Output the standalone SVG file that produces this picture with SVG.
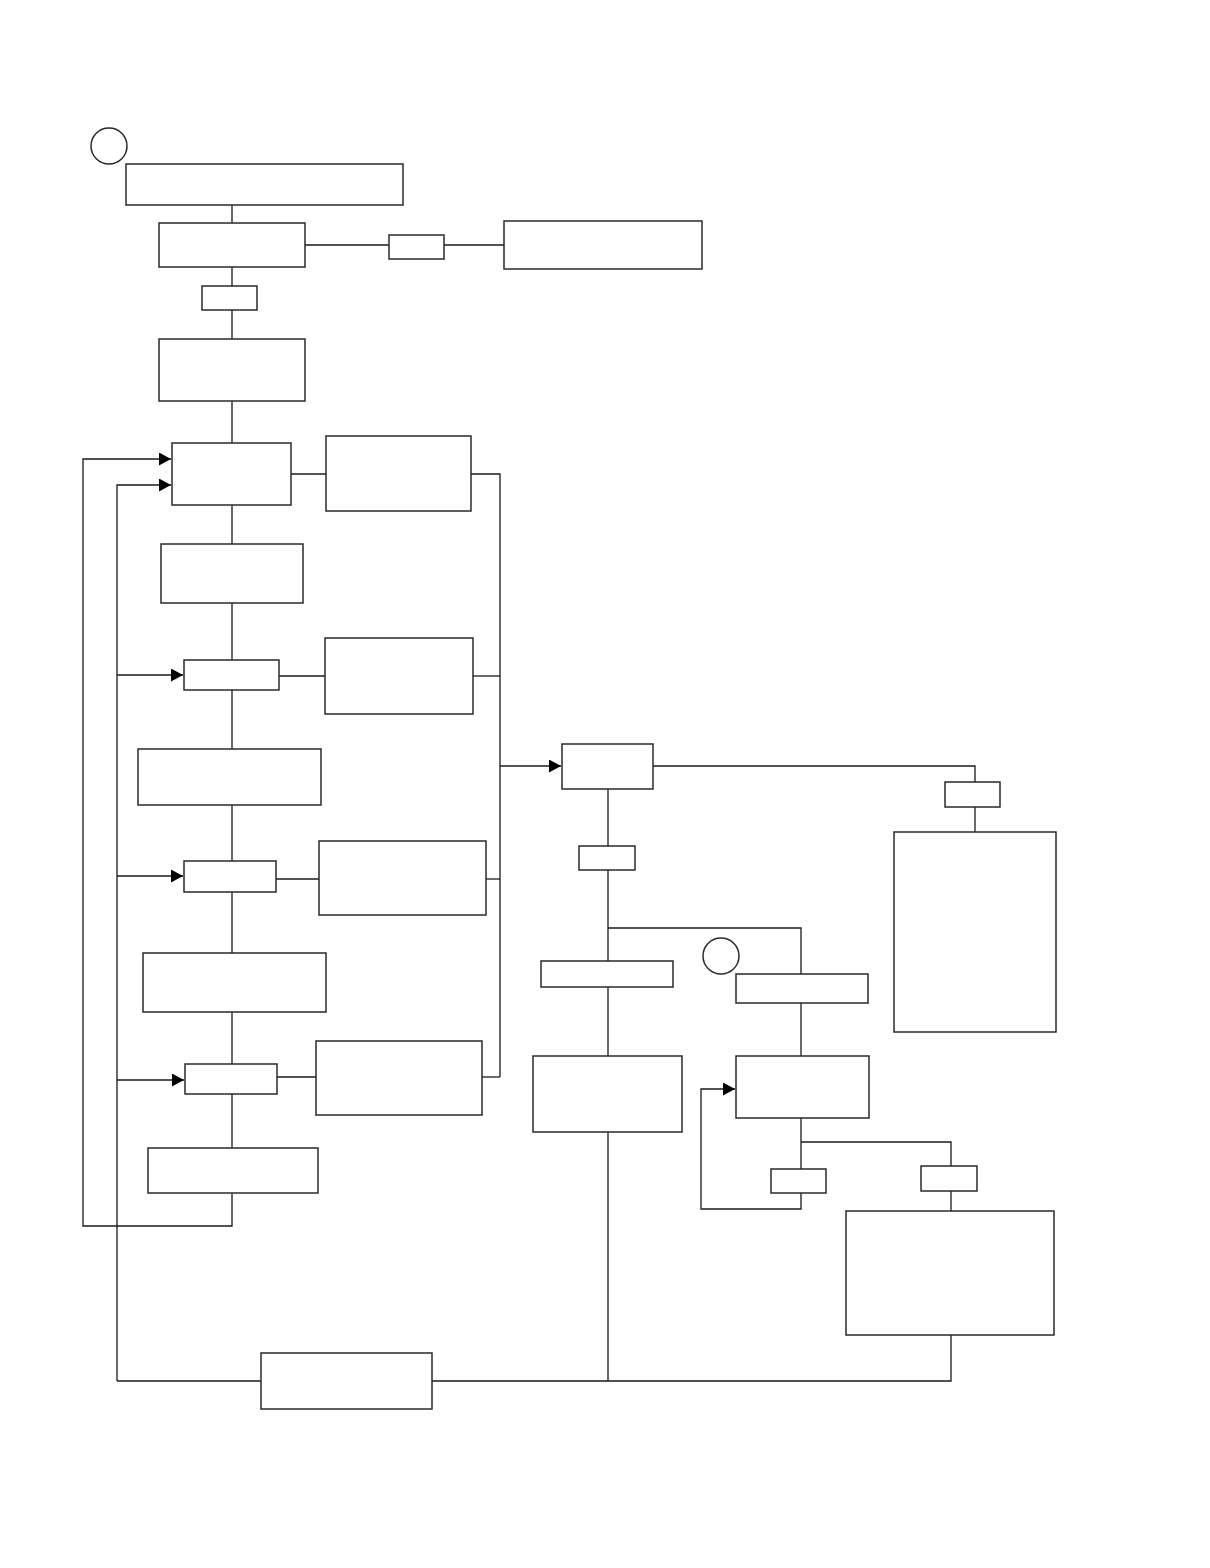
<svg xmlns="http://www.w3.org/2000/svg" width="1210" height="1568" viewBox="0 0 1210 1568">
<style>
.n{fill:#fff;stroke:#2a2a2a;stroke-width:1.5}
.c{fill:none;stroke:#1a1a1a;stroke-width:1.3}
</style>
<defs>
<marker id="ah" markerUnits="userSpaceOnUse" markerWidth="14" markerHeight="13" refX="12" refY="6.5" orient="auto">
<path d="M0,0 L12,6.5 L0,13 z" fill="#000"/>
</marker>
</defs>
<rect width="1210" height="1568" fill="#fff"/>
<g id="connectors" class="c">
<path d="M232,205 V223"/>
<path d="M305,245 H389"/>
<path d="M444,245 H504"/>
<path d="M232,267 V286"/>
<path d="M232,310 V339"/>
<path d="M232,401 V443"/>
<path d="M291,474 H326"/>
<path d="M471,474 H500 V1077"/>
<path d="M232,505 V544"/>
<path d="M232,603 V660"/>
<path d="M279,676 H325"/>
<path d="M473,676 H500"/>
<path d="M232,690 V749"/>
<path d="M232,805 V861"/>
<path d="M276,879 H319"/>
<path d="M486,879 H500"/>
<path d="M232,892 V953"/>
<path d="M232,1012 V1064"/>
<path d="M277,1077 H316"/>
<path d="M482,1077 H500"/>
<path d="M232,1094 V1148"/>
<path d="M232,1193 V1226 H83 V459 H171" marker-end="url(#ah)"/>
<path d="M117,1381 V485 H171" marker-end="url(#ah)"/>
<path d="M117,675 H183" marker-end="url(#ah)"/>
<path d="M117,876 H183" marker-end="url(#ah)"/>
<path d="M117,1080 H184" marker-end="url(#ah)"/>
<path d="M500,766 H561" marker-end="url(#ah)"/>
<path d="M653,766 H975 V782"/>
<path d="M975,807 V832"/>
<path d="M608,789 V846"/>
<path d="M608,870 V961"/>
<path d="M608,928 H801 V974"/>
<path d="M608,987 V1056"/>
<path d="M801,1003 V1056"/>
<path d="M801,1118 V1169"/>
<path d="M801,1142 H951 V1166"/>
<path d="M801,1193 V1209 H701 V1089 H735" marker-end="url(#ah)"/>
<path d="M951,1191 V1211"/>
<path d="M951,1335 V1381 H432"/>
<path d="M608,1132 V1381"/>
<path d="M117,1381 H261"/>
</g>
<g id="circle1"><circle class="n" cx="109" cy="146" r="18"/></g>
<g id="circle2"><circle class="n" cx="721" cy="956" r="18"/></g>
<g id="nA"><rect class="n" x="126" y="164" width="277" height="41"/></g>
<g id="nB"><rect class="n" x="159" y="223" width="146" height="44"/></g>
<g id="nC"><rect class="n" x="389" y="235" width="55" height="24"/></g>
<g id="nD"><rect class="n" x="504" y="221" width="198" height="48"/></g>
<g id="nE"><rect class="n" x="202" y="286" width="55" height="24"/></g>
<g id="nF"><rect class="n" x="159" y="339" width="146" height="62"/></g>
<g id="nG"><rect class="n" x="172" y="443" width="119" height="62"/></g>
<g id="nH"><rect class="n" x="326" y="436" width="145" height="75"/></g>
<g id="nI"><rect class="n" x="161" y="544" width="142" height="59"/></g>
<g id="nJ"><rect class="n" x="184" y="660" width="95" height="30"/></g>
<g id="nK"><rect class="n" x="325" y="638" width="148" height="76"/></g>
<g id="nL"><rect class="n" x="138" y="749" width="183" height="56"/></g>
<g id="nM"><rect class="n" x="184" y="861" width="92" height="31"/></g>
<g id="nN"><rect class="n" x="319" y="841" width="167" height="74"/></g>
<g id="nO"><rect class="n" x="143" y="953" width="183" height="59"/></g>
<g id="nP"><rect class="n" x="185" y="1064" width="92" height="30"/></g>
<g id="nQ"><rect class="n" x="316" y="1041" width="166" height="74"/></g>
<g id="nR"><rect class="n" x="148" y="1148" width="170" height="45"/></g>
<g id="nS"><rect class="n" x="562" y="744" width="91" height="45"/></g>
<g id="nT"><rect class="n" x="945" y="782" width="55" height="25"/></g>
<g id="nU"><rect class="n" x="894" y="832" width="162" height="200"/></g>
<g id="nV"><rect class="n" x="579" y="846" width="56" height="24"/></g>
<g id="nW"><rect class="n" x="541" y="961" width="132" height="26"/></g>
<g id="nX"><rect class="n" x="736" y="974" width="132" height="29"/></g>
<g id="nY"><rect class="n" x="533" y="1056" width="149" height="76"/></g>
<g id="nZ"><rect class="n" x="736" y="1056" width="133" height="62"/></g>
<g id="nAA"><rect class="n" x="771" y="1169" width="55" height="24"/></g>
<g id="nAB"><rect class="n" x="921" y="1166" width="56" height="25"/></g>
<g id="nAC"><rect class="n" x="846" y="1211" width="208" height="124"/></g>
<g id="nBottom"><rect class="n" x="261" y="1353" width="171" height="56"/></g>
</svg>
